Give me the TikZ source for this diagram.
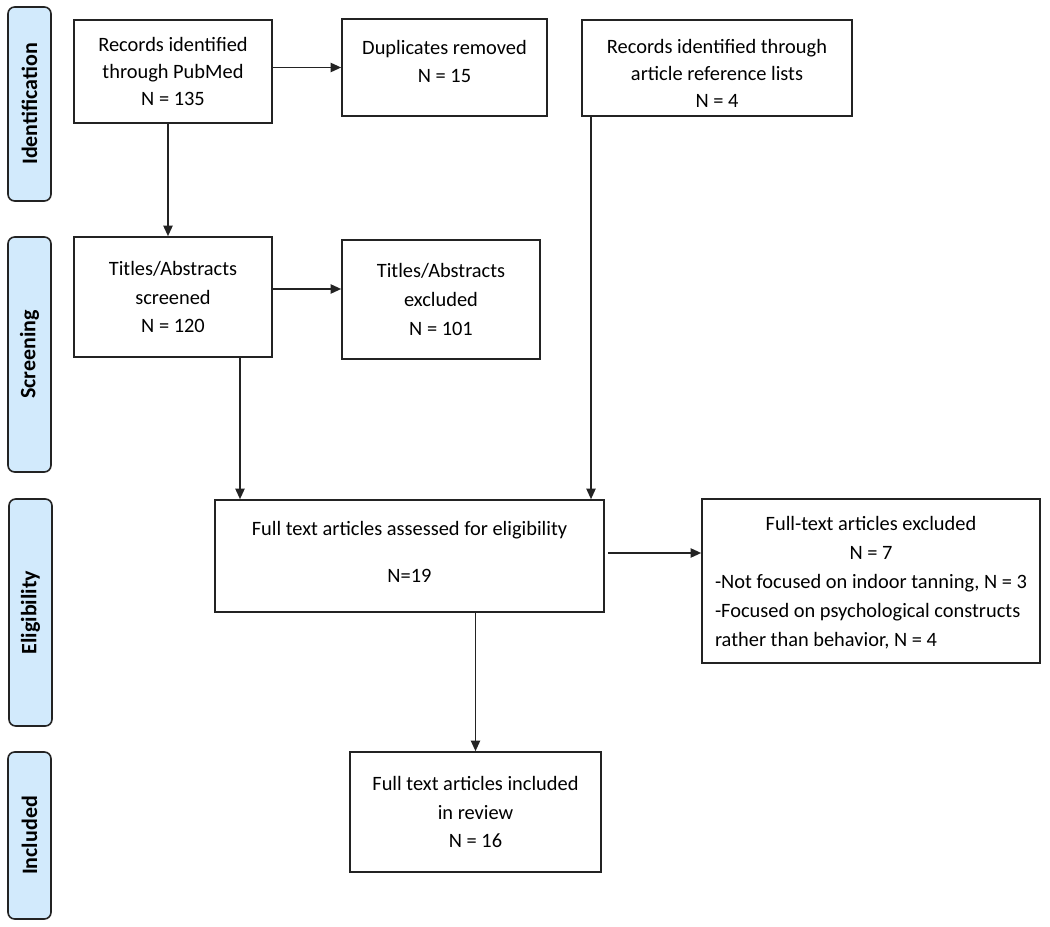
\documentclass[tikz,border=0pt]{standalone}
\usepackage{fontspec}
\setmainfont{Carlito}
\usetikzlibrary{arrows.meta}
\definecolor{sidefill}{RGB}{210,234,252}
\definecolor{linecol}{RGB}{35,35,35}
\tikzset{
  box/.style 2 args={draw=linecol, line width=1.2pt, rectangle, minimum width=#1*0.75pt, minimum height=#2*0.75pt, inner sep=2pt, align=center, font=\fontsize{15.3}{20.25}\selectfont},
  side/.style 2 args={draw=linecol, line width=1.2pt, fill=sidefill, rounded corners=5pt, minimum width=#1*0.75pt, minimum height=#2*0.75pt, inner sep=0pt},
  sidetext/.style={rotate=90, font=\fontsize{16.5}{18}\selectfont\bfseries},
  arr/.style={draw=linecol, line width=1.2pt, -{Triangle[length=8pt,width=7pt]}}
}
\begin{document}
\begin{tikzpicture}[x=0.75pt,y=-0.75pt]
\useasboundingbox (0,0) rectangle (1050,927);
% side bars
\node[side={43}{194}] (s1) at (29.5,104) {};
\node[sidetext] (t1) at (s1.center) {Identification};
\node[side={43}{235}] (s2) at (29.5,354.5) {};
\node[sidetext] (t2) at (s2.center) {Screening};
\node[side={43}{227}] (s3) at (30.5,612.5) {};
\node[sidetext] (t3) at (s3.center) {Eligibility};
\node[side={43}{167}] (s4) at (29.5,835.5) {};
\node[sidetext] (t4) at (s4.center) {Included};
% boxes
\node[box={198}{103}] (pub) at (173,71.5) {Records identified\\through PubMed\\N = 135};
\node[box={205}{97}] (dup) at (444.5,67.5) {Duplicates removed\\[1pt]N = 15\\[-11pt]\mbox{}};
\node[box={270}{96}] (ref) at (717,68) {Records identified through\\article reference lists\\N = 4\\[-27.75pt]\mbox{}};
\node[box={198}{120}, font=\fontsize{15.3}{21.4}\selectfont] (scr) at (173,297) {Titles/Abstracts\\screened\\N = 120};
\node[box={198}{119}, font=\fontsize{15.3}{21.4}\selectfont] (exc) at (441,299.5) {Titles/Abstracts\\excluded\\N = 101};
\node[box={389}{112}] (full) at (409.5,556) {Full text articles assessed for eligibility\\[15pt]N=19\\[-14.25pt]\mbox{}};
\node[draw=linecol, line width=1.2pt, rectangle, minimum width=338*0.75pt, minimum height=164*0.75pt, inner sep=0pt] (fexc) at (871,581) {};
\node[text width=312*0.75pt, inner sep=0pt, align=flush left, font=\fontsize{15.3}{21.75}\selectfont, anchor=center] (fexct) at ([xshift=0pt,yshift=-1.5pt]fexc.center) {\centering Full-text articles excluded\\N = 7\par\raggedright -Not focused on indoor tanning, N = 3\\-Focused on psychological constructs\\rather than behavior, N = 4\par};
\node[box={251}{120}, font=\fontsize{15.3}{21.4}\selectfont] (inc) at (475.5,812) {Full text articles included\\in review\\N = 16};
% connectors
\draw[arr] (pub.east |- dup.west) -- (dup.west);
\coordinate (p1) at ([xshift=-3.75pt]pub.south);
\draw[arr] (p1) -- (p1 |- scr.north);
\coordinate (c1) at ([yshift=6pt]scr.east);
\draw[arr] (c1) -- (c1 -| exc.west);
\coordinate (c2) at ([xshift=50.25pt]scr.south);
\draw[arr] (c2) -- (c2 |- full.north);
\coordinate (c3) at ([xshift=-94.5pt]ref.south);
\draw[arr] (c3) -- (c3 |- full.north);
\coordinate (c4) at ([xshift=2.25pt,yshift=2.25pt]full.east);
\draw[arr] (c4) -- (c4 -| fexc.west);
\draw[arr] (inc.north |- full.south) -- (inc.north);
\end{tikzpicture}
\end{document}
